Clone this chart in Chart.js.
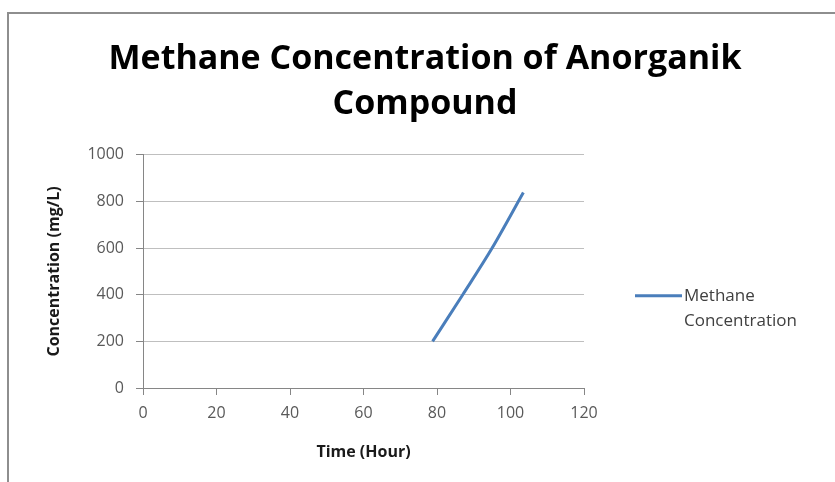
<!DOCTYPE html>
<html>
<head>
<meta charset="utf-8">
<script src="https://cdn.jsdelivr.net/npm/chart.js@4.4.0/dist/chart.umd.min.js"></script>
<style>
  body { margin: 0; background: #fff; }
  #wrap { position: relative; width: 835px; height: 482px; overflow: hidden; }
  #frame { position: absolute; left: 7px; top: 12px; width: 900px; height: 600px;
           border-top: 2px solid #8e8e8e; border-left: 2px solid #8e8e8e; }
  #graph { position: absolute; left: 0; top: 0; }
</style>
</head>
<body>
<div id="wrap">
  <div id="frame"></div>
  <canvas id="graph" width="835" height="482"></canvas>
</div>
<script>
// data
const hours = [78.8, 87, 95, 103.5];
const methane = [200, 400, 600, 838];
const seriesName = ['Methane', 'Concentration'];
const titleLines = ['Methane Concentration of Anorganik', 'Compound'];

const points = hours.map((h, i) => ({ x: h, y: methane[i] }));

// legend drawn to the right of the plot, two lines like Excel
const sideLegend = {
    id: 'sideLegend',
    afterDraw(chart) {
        const ctx = chart.ctx;
        const ds = chart.data.datasets[0];
        const x = chart.chartArea.right + 51;
        const y = chart.chartArea.top + 141;
        ctx.save();
        ctx.strokeStyle = ds.borderColor;
        ctx.lineWidth = 3;
        ctx.beginPath();
        ctx.moveTo(x, y);
        ctx.lineTo(x + 47, y);
        ctx.stroke();
        ctx.fillStyle = '#404040';
        ctx.font = '17px "Open Sans"';
        ctx.textBaseline = 'middle';
        seriesName.forEach((t, i) => ctx.fillText(t, x + 49, y + i * 25));
        ctx.restore();
    }
};

const graph = document.getElementById('graph').getContext('2d');

new Chart(graph, {
    type: 'line',
    data: {
        datasets: [{
            label: seriesName.join(' '),
            data: points,
            borderColor: '#4a7ebb',
            borderWidth: 3,
            pointRadius: 0,
            fill: false,
            cubicInterpolationMode: 'monotone',
        }]
    },
    options: {
        responsive: false,
        animation: false,
        layout: { padding: { left: 15, right: 0, top: 0, bottom: 0 } },
        plugins: {
            legend: { display: false },
            tooltip: { enabled: false },
            title: {
                display: true,
                text: titleLines,
                color: '#000',
                font: { family: 'Open Sans', size: 34, weight: 'bold', lineHeight: 1.32 },
                padding: { top: 37, bottom: 28 },
            },
        },
        scales: {
            x: {
                type: 'linear',
                min: 0,
                max: 120,
                ticks: { stepSize: 20, color: '#595959', padding: 9, font: { family: 'Open Sans', size: 16 } },
                grid: { drawOnChartArea: false, tickLength: 7, tickColor: '#868686' },
                border: { color: '#868686' },
                title: {
                    display: true, text: 'Time (Hour)', color: '#1a1a1a',
                    font: { family: 'Open Sans', size: 16, weight: 'bold' },
                    padding: { top: 0, bottom: 20 },
                },
                afterFit(scale) { scale.height = 94; },
            },
            y: {
                min: 0,
                max: 1000,
                ticks: {
                    stepSize: 200, color: '#595959', padding: 12, font: { family: 'Open Sans', size: 16 },
                    callback: v => String(v),
                },
                grid: { color: '#bfbfbf', tickLength: 7, tickColor: '#868686' },
                border: { color: '#868686' },
                title: {
                    display: true, text: 'Concentration (mg/L)', color: '#1a1a1a',
                    font: { family: 'Open Sans', size: 16, weight: 'bold' },
                    padding: { top: 30, bottom: 0 },
                },
                afterFit(scale) { scale.width = 128; },
            },
            yr: {
                type: 'linear',
                position: 'right',
                ticks: { display: false },
                grid: { display: false },
                border: { display: false },
                afterFit(scale) { scale.width = 251; },
            },
        },
    },
    plugins: [sideLegend],
});
</script>
</body>
</html>
